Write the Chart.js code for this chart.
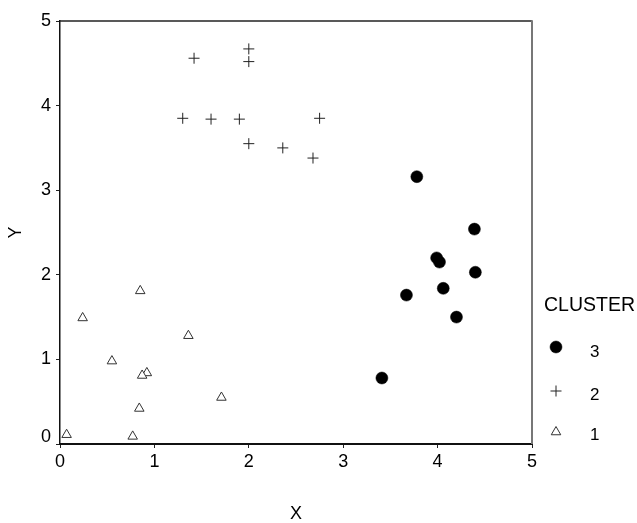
<!DOCTYPE html>
<html>
<head>
<meta charset="utf-8">
<script src="https://cdn.jsdelivr.net/npm/chart.js@4/dist/chart.umd.min.js"></script>
<style>
  html, body { margin: 0; padding: 0; background: #fff; }
  #wrap { width: 637px; height: 523px; }
</style>
</head>
<body>
<div id="wrap"><canvas id="c" width="637" height="523"></canvas></div>
<script>
// ---- data ----
const xTicks = [0, 1, 2, 3, 4, 5];
const yTicks = [0, 1, 2, 3, 4, 5];
const legendTitle = 'CLUSTER';
const clusterNames = ['3', '2', '1'];

const cluster3X = [3.78, 4.39, 3.99, 4.02, 4.40, 4.06, 3.67, 4.20, 3.41];
const cluster3Y = [3.16, 2.54, 2.20, 2.15, 2.03, 1.84, 1.76, 1.50, 0.78];

const cluster2X = [1.42, 2.00, 2.00, 1.30, 1.60, 1.90, 2.75, 2.00, 2.36, 2.68];
const cluster2Y = [4.56, 4.67, 4.52, 3.85, 3.84, 3.84, 3.85, 3.55, 3.50, 3.38];

const cluster1X = [0.85, 0.24, 1.36, 0.55, 0.92, 0.87, 1.71, 0.84, 0.07, 0.77];
const cluster1Y = [1.81, 1.49, 1.28, 0.98, 0.84, 0.81, 0.55, 0.42, 0.11, 0.09];

function pts(xs, ys) { return xs.map((x, i) => ({ x: x, y: ys[i] })); }

const FONT = '"Liberation Sans", Arial, Helvetica, sans-serif';

const datasets = [
  { label: clusterNames[0], data: pts(cluster3X, cluster3Y), pointStyle: 'circle', pointRadius: 6,
    backgroundColor: '#000', borderColor: '#000', pointBorderWidth: 0.5, showLine: false },
  { label: clusterNames[1], data: pts(cluster2X, cluster2Y), pointStyle: 'cross', pointRadius: 5.5,
    backgroundColor: '#222', borderColor: '#222', pointBorderWidth: 1, showLine: false },
  { label: clusterNames[2], data: pts(cluster1X, cluster1Y), pointStyle: 'triangle', pointRadius: 5.5,
    backgroundColor: '#fff', borderColor: '#333', pointBorderWidth: 1, showLine: false }
];

const framePlugin = {
  id: 'frame',
  afterDraw(chart) {
    const ctx = chart.ctx;
    const a = chart.chartArea;
    ctx.save();
    // top border
    ctx.strokeStyle = '#222';
    ctx.lineWidth = 1.5;
    ctx.beginPath();
    ctx.moveTo(a.left, a.top);
    ctx.lineTo(a.right, a.top);
    ctx.stroke();
    // right border
    ctx.strokeStyle = '#777';
    ctx.lineWidth = 2;
    ctx.beginPath();
    ctx.moveTo(a.right, a.top - 0.75);
    ctx.lineTo(a.right, a.bottom);
    ctx.stroke();
    // y-axis "0" label, lifted above the x axis as in the reference
    const ys = chart.scales.y;
    ctx.fillStyle = '#000';
    ctx.font = '18px ' + FONT;
    ctx.textAlign = 'right';
    ctx.textBaseline = 'middle';
    ctx.fillText(String(yTicks[0]), a.left - 9, ys.getPixelForValue(yTicks[0]) - 7);
    ctx.restore();
  }
};

const legendPlugin = {
  id: 'clusterLegend',
  afterDraw(chart) {
    const ctx = chart.ctx;
    const a = chart.chartArea;
    ctx.save();
    ctx.fillStyle = '#000';
    ctx.textBaseline = 'middle';
    ctx.textAlign = 'left';
    ctx.font = '19.5px ' + FONT;
    ctx.fillText(legendTitle, a.right + 12, 306);
    const markerYs = [347, 391, 432];
    const labelYs = [352, 395, 435];
    chart.data.datasets.forEach((ds, i) => {
      ctx.fillStyle = ds.backgroundColor;
      ctx.strokeStyle = ds.borderColor;
      ctx.lineWidth = ds.pointBorderWidth;
      Chart.helpers.drawPoint(ctx, {
        pointStyle: ds.pointStyle,
        radius: ds.pointStyle === 'circle' ? 6 : 5.5,
        borderWidth: ds.pointBorderWidth,
        rotation: 0
      }, a.right + 24, markerYs[i]);
      ctx.fillStyle = '#000';
      ctx.font = '17px ' + FONT;
      ctx.fillText(ds.label, a.right + 58, labelYs[i]);
    });
    ctx.restore();
  }
};

new Chart(document.getElementById('c'), {
  type: 'scatter',
  data: { datasets: datasets },
  options: {
    responsive: false,
    animation: false,
    events: [],
    layout: { padding: { top: 21, right: 105, left: 0, bottom: 0 } },
    elements: { point: { hoverRadius: 0 } },
    clip: false,
    plugins: {
      legend: { display: false },
      tooltip: { enabled: false },
      title: { display: false }
    },
    scales: {
      x: {
        type: 'linear',
        min: 0, max: 5,
        afterBuildTicks(scale) { scale.ticks = xTicks.map(v => ({ value: v })); },
        afterFit(scale) { scale.height = 79; },
        border: { display: true, color: '#111', width: 2 },
        grid: { display: true, drawOnChartArea: false, drawTicks: true, tickLength: 4, color: '#222', lineWidth: 1 },
        ticks: { color: '#000', font: { family: FONT, size: 18 }, padding: 3, maxRotation: 0 },
        title: { display: true, text: 'X', color: '#000', font: { family: FONT, size: 18, lineHeight: 1 }, padding: { top: 0, bottom: 0 } }
      },
      y: {
        type: 'linear',
        min: 0, max: 5,
        afterBuildTicks(scale) { scale.ticks = yTicks.map(v => ({ value: v })); },
        afterFit(scale) { scale.width = 60; },
        border: { display: true, color: '#111', width: 1.5 },
        grid: { display: true, drawOnChartArea: false, drawTicks: true, tickLength: 4, color: '#222', lineWidth: 1 },
        ticks: { color: '#000', font: { family: FONT, size: 18 }, padding: 5,
                 callback: (v) => (v === yTicks[0] ? '' : String(v)) },
        title: { display: true, text: 'Y', color: '#000', font: { family: FONT, size: 18 }, padding: { top: 5, bottom: 0 } }
      }
    }
  },
  plugins: [framePlugin, legendPlugin]
});
</script>
</body>
</html>
